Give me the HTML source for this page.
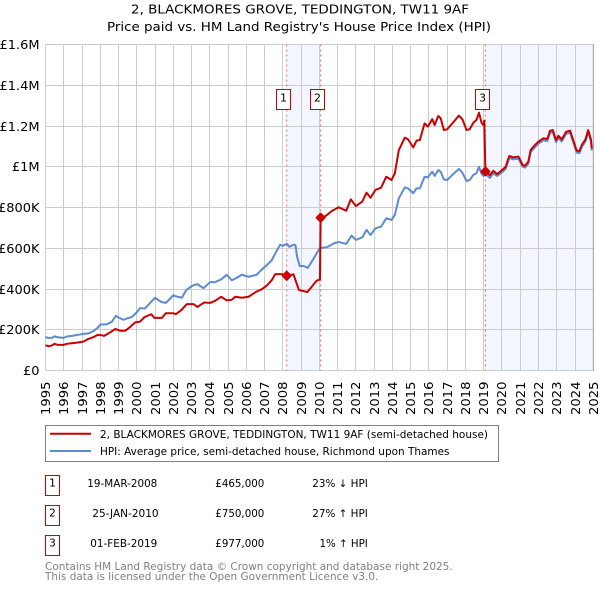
<!DOCTYPE html>
<html>
<head>
<meta charset="utf-8">
<title>2, BLACKMORES GROVE, TEDDINGTON, TW11 9AF</title>
<style>
html,body{margin:0;padding:0;background:#fff;}
body{width:600px;height:590px;overflow:hidden;}
svg{display:block;}
text{font-family:"DejaVu Sans","Liberation Sans",sans-serif;fill:#000;}
</style>
</head>
<body>
<svg id="chart" xmlns="http://www.w3.org/2000/svg" width="600" height="590" viewBox="0 0 600 590">
  <rect x="0" y="0" width="600" height="590" fill="#fff"/>
  <text x="131" y="13.5" font-size="12.5" textLength="338" lengthAdjust="spacingAndGlyphs">2, BLACKMORES GROVE, TEDDINGTON, TW11 9AF</text>
  <text x="107" y="31" font-size="12.5" textLength="384" lengthAdjust="spacingAndGlyphs">Price paid vs. HM Land Registry's House Price Index (HPI)</text>
  <g id="shade-layer"></g>
  <g id="grid-layer"></g>
  <g id="axis-layer"></g>
  <g id="series-layer"></g>
  <g id="annotation-layer"></g>

  <g>
    <rect x="45.5" y="425.5" width="453" height="36" fill="#fff" stroke="#808080" stroke-width="1"/>
    <line x1="50" x2="91" y1="433.7" y2="433.7" stroke="#cc0000" stroke-width="2"/>
    <text x="100" y="438" font-size="10.5" textLength="388" lengthAdjust="spacingAndGlyphs">2, BLACKMORES GROVE, TEDDINGTON, TW11 9AF (semi-detached house)</text>
    <line x1="50" x2="91" y1="451" y2="451" stroke="#5b8bd0" stroke-width="2"/>
    <text x="100" y="455" font-size="10.5" textLength="349.5" lengthAdjust="spacingAndGlyphs">HPI: Average price, semi-detached house, Richmond upon Thames</text>
  </g>

  <g font-size="10.5">
    <rect x="45.5" y="475.5" width="14" height="20" fill="#fff" stroke="#cc0000"/>
    <text x="52.5" y="486.5" text-anchor="middle">1</text>
    <text x="87.3" y="487" textLength="70" lengthAdjust="spacingAndGlyphs">19-MAR-2008</text>
    <text x="215.3" y="487" textLength="49" lengthAdjust="spacingAndGlyphs">£465,000</text>
    <text x="312.3" y="487" textLength="55.5" lengthAdjust="spacingAndGlyphs">23% ↓ HPI</text>

    <rect x="45.5" y="505.5" width="14" height="20" fill="#fff" stroke="#cc0000"/>
    <text x="52.5" y="516.5" text-anchor="middle">2</text>
    <text x="92.3" y="517" textLength="66.3" lengthAdjust="spacingAndGlyphs">25-JAN-2010</text>
    <text x="215.3" y="517" textLength="49" lengthAdjust="spacingAndGlyphs">£750,000</text>
    <text x="312.3" y="517" textLength="55.5" lengthAdjust="spacingAndGlyphs">27% ↑ HPI</text>

    <rect x="45.5" y="535.5" width="14" height="20" fill="#fff" stroke="#cc0000"/>
    <text x="52.5" y="546.5" text-anchor="middle">3</text>
    <text x="90.3" y="547" textLength="67" lengthAdjust="spacingAndGlyphs">01-FEB-2019</text>
    <text x="215.3" y="547" textLength="49" lengthAdjust="spacingAndGlyphs">£977,000</text>
    <text x="319.5" y="547" textLength="48.3" lengthAdjust="spacingAndGlyphs">1% ↑ HPI</text>
  </g>

  <text x="45" y="570" font-size="10.5" textLength="407.7" lengthAdjust="spacingAndGlyphs" style="fill:#808080">Contains HM Land Registry data © Crown copyright and database right 2025.</text>
  <text x="45" y="580" font-size="10.5" textLength="333.3" lengthAdjust="spacingAndGlyphs" style="fill:#808080">This data is licensed under the Open Government Licence v3.0.</text>
</svg>
<script>
const yearTicks = [1995,1996,1997,1998,1999,2000,2001,2002,2003,2004,2005,2006,2007,2008,2009,2010,2011,2012,2013,2014,2015,2016,2017,2018,2019,2020,2021,2022,2023,2024,2025];
const priceTicks = [0,200,400,600,800,1000,1200,1400,1600];
const priceTickLabels = ["£0","£200K","£400K","£600K","£800K","£1M","£1.2M","£1.4M","£1.6M"];

const hpiDates = [1995.00,1995.13,1995.35,1995.49,1995.66,1996.00,1996.17,1996.44,1996.72,1997.08,1997.35,1997.63,1997.85,1998.01,1998.36,1998.63,1998.85,1999.00,1999.27,1999.45,1999.73,1999.97,2000.18,2000.44,2000.82,2001.00,2001.33,2001.59,2002.01,2002.10,2002.47,2002.70,2003.05,2003.32,2003.65,2004.02,2004.29,2004.62,2004.93,2005.20,2005.42,2005.75,2006.12,2006.57,2006.85,2007.12,2007.39,2007.58,2007.85,2008.00,2008.22,2008.36,2008.58,2008.69,2008.78,2008.92,2009.14,2009.36,2009.60,2009.87,2010.02,2010.20,2010.42,2010.79,2011.06,2011.47,2011.76,2012.00,2012.35,2012.58,2012.80,2013.07,2013.38,2013.66,2013.95,2014.13,2014.35,2014.68,2014.85,2015.14,2015.32,2015.50,2015.76,2015.94,2016.18,2016.31,2016.51,2016.64,2016.82,2017.00,2017.28,2017.64,2017.83,2018.06,2018.23,2018.43,2018.60,2018.74,2018.88,2018.98,2019.10,2019.34,2019.52,2019.74,2020.07,2020.20,2020.40,2020.62,2020.90,2021.13,2021.26,2021.44,2021.57,2021.81,2021.99,2022.27,2022.48,2022.63,2022.78,2022.96,2023.09,2023.27,2023.51,2023.73,2023.90,2024.09,2024.24,2024.37,2024.57,2024.72,2024.87,2024.92];
const hpiValues = [165,160,160,168,163,160,167,170,174,180,182,194,209,226,227,239,268,260,249,255,263,283,306,304,340,357,337,332,370,365,357,394,417,424,404,434,434,447,470,443,452,470,460,470,496,517,541,574,617,612,622,607,617,615,558,513,513,503,537,578,600,603,605,624,631,621,662,641,654,690,665,698,706,747,739,763,845,899,894,870,894,894,951,948,976,955,984,976,938,935,960,989,971,930,935,960,968,1000,965,955,965,945,968,955,978,990,1043,1036,1040,1000,996,1015,1072,1097,1113,1130,1126,1167,1170,1121,1142,1124,1162,1167,1121,1069,1067,1097,1124,1170,1124,1080];

const paidDates = [1995.00,1995.16,1995.35,1995.49,1995.66,1996.00,1996.17,1996.44,1996.72,1997.08,1997.35,1997.63,1997.85,1998.09,1998.21,1998.54,1998.82,1999.09,1999.36,1999.64,1999.91,2000.18,2000.42,2000.79,2000.97,2001.37,2001.59,2002.01,2002.14,2002.47,2002.74,2003.10,2003.32,2003.69,2004.02,2004.29,2004.62,2004.93,2005.20,2005.39,2005.75,2006.12,2006.57,2006.85,2007.12,2007.39,2007.58,2007.94,2008.21,2008.58,2008.72,2008.88,2009.12,2009.34,2009.58,2009.85,2010.03,2010.07,2010.33,2010.70,2011.06,2011.47,2011.72,2012.00,2012.35,2012.58,2012.80,2013.07,2013.38,2013.66,2013.95,2014.13,2014.35,2014.68,2014.85,2015.14,2015.32,2015.50,2015.76,2015.94,2016.18,2016.31,2016.51,2016.64,2016.82,2017.00,2017.28,2017.64,2017.83,2018.06,2018.23,2018.43,2018.60,2018.74,2018.88,2018.98,2019.03,2019.09,2019.34,2019.52,2019.74,2020.07,2020.20,2020.40,2020.62,2020.90,2021.13,2021.26,2021.44,2021.57,2021.81,2021.99,2022.27,2022.48,2022.63,2022.78,2022.96,2023.09,2023.27,2023.51,2023.73,2023.90,2024.09,2024.24,2024.37,2024.57,2024.72,2024.87,2024.92];
const paidValues = [124,119,123,131,126,126,131,134,137,142,155,164,175,173,170,187,204,195,195,214,236,240,262,276,258,258,281,281,276,299,326,326,312,334,332,342,362,344,347,362,357,362,388,399,417,443,473,473,465,472,436,395,390,385,411,441,447,750,758,784,801,784,840,807,829,873,848,886,897,951,935,968,1082,1143,1135,1095,1128,1131,1213,1197,1234,1205,1249,1238,1180,1184,1213,1251,1233,1180,1184,1216,1230,1265,1216,1205,1226,977,959,980,964,989,1000,1053,1046,1050,1009,1005,1025,1082,1107,1123,1140,1136,1177,1180,1131,1152,1134,1172,1177,1131,1079,1077,1107,1134,1180,1134,1090];

const saleLabels = ["1","2","3"];
const saleDates = [2008.21,2010.07,2019.09];
const salePrices = [465,750,977];

const SVG_NS = "http://www.w3.org/2000/svg";
const plotLeft = 45.5, plotRight = 593.3, plotTop = 44.5, plotBottom = 370.5;
function xScale(year){ return plotLeft + (year - 1995) * (plotRight - plotLeft) / 30; }
function yScale(value){ return plotBottom - value * (plotBottom - plotTop) / 1600; }
function snap(v){ return Math.floor(v) + 0.5; }
function make(tag, attrs){
  const el = document.createElementNS(SVG_NS, tag);
  for (const k in attrs) el.setAttribute(k, attrs[k]);
  return el;
}
const shadeLayer = document.getElementById("shade-layer");
const gridLayer = document.getElementById("grid-layer");
const axisLayer = document.getElementById("axis-layer");
const seriesLayer = document.getElementById("series-layer");
const annotationLayer = document.getElementById("annotation-layer");

const shadeColor = "#f3f6fe";
const shade1 = make("rect", {x:xScale(saleDates[0]), y:plotTop, width:xScale(saleDates[1])-xScale(saleDates[0]), height:plotBottom-plotTop, fill:shadeColor});


shadeLayer.appendChild(shade1);
const shade2 = make("rect", {x:xScale(saleDates[2]), y:plotTop, width:plotRight-xScale(saleDates[2]), height:plotBottom-plotTop, fill:shadeColor});


shadeLayer.appendChild(shade2);

yearTicks.forEach(function(year){
  const x = snap(xScale(year));
  const line = make("line", {x1:x, x2:x, y1:plotTop, y2:plotBottom, stroke:"#cccccc", "stroke-width":1});
  
  
  gridLayer.appendChild(line);
  const t = make("text", {x:0, y:0, "font-size":12, "text-anchor":"end", textLength:33.5, lengthAdjust:"spacingAndGlyphs", transform:"translate(" + (x + 4.5) + " 381.5) rotate(-90)"});
  
  
  t.textContent = String(year);
  axisLayer.appendChild(t);
});
priceTicks.forEach(function(value, i){
  const y = snap(yScale(value));
  const line = make("line", {x1:plotLeft, x2:plotRight + 1, y1:y, y2:y, stroke:"#cccccc", "stroke-width":1});
  
  
  gridLayer.appendChild(line);
  const t = make("text", {x:0, y:0, "font-size":12, "text-anchor":"end", transform:"translate(39.5 " + (y + 4.5) + ") scale(1.08 1)"});
  
  
  t.textContent = priceTickLabels[i];
  axisLayer.appendChild(t);
});
const rightEdge = make("line", {x1:plotRight, x2:plotRight, y1:plotTop, y2:plotBottom, stroke:"#a8a8a8", "stroke-width":1});


gridLayer.appendChild(rightEdge);

saleDates.forEach(function(date){
  const x = xScale(date);
  const line = make("line", {x1:x, x2:x, y1:plotTop, y2:plotBottom, stroke:"#ff5f6d", "stroke-width":1, "stroke-dasharray":"2 3"});
  
  
  gridLayer.appendChild(line);
});

function pathFor(dates, values){
  return dates.map(function(d, i){
    return (i ? "L" : "M") + xScale(d).toFixed(2) + " " + yScale(values[i]).toFixed(2);
  }).join(" ");
}
const hpiLine = make("path", {d:pathFor(hpiDates, hpiValues), fill:"none", stroke:"#5b8bd0", "stroke-width":2, "stroke-linejoin":"round"});


seriesLayer.appendChild(hpiLine);
const paidLine = make("path", {d:pathFor(paidDates, paidValues), fill:"none", stroke:"#cc0000", "stroke-width":2, "stroke-linejoin":"round"});


seriesLayer.appendChild(paidLine);

saleDates.forEach(function(date, i){
  const cx = xScale(date), cy = yScale(salePrices[i]), h = 4;
  const m = make("polygon", {points:[cx-h,cy,cx,cy-h,cx+h,cy,cx,cy+h].join(","), fill:"#cc0000", stroke:"#cc0000", "stroke-width":2, "stroke-linejoin":"round"});
  
  
  seriesLayer.appendChild(m);
  const bx = Math.floor(cx - 10) + 0.5;
  const box = make("rect", {x:bx, y:89.5, width:14, height:20, fill:"#fff", stroke:"#cc0000", "stroke-width":1});
  
  
  annotationLayer.appendChild(box);
  const t = make("text", {x:bx + 7, y:101.5, "font-size":11, "text-anchor":"middle"});
  
  
  t.textContent = saleLabels[i];
  annotationLayer.appendChild(t);
});
</script>
</body>
</html>
